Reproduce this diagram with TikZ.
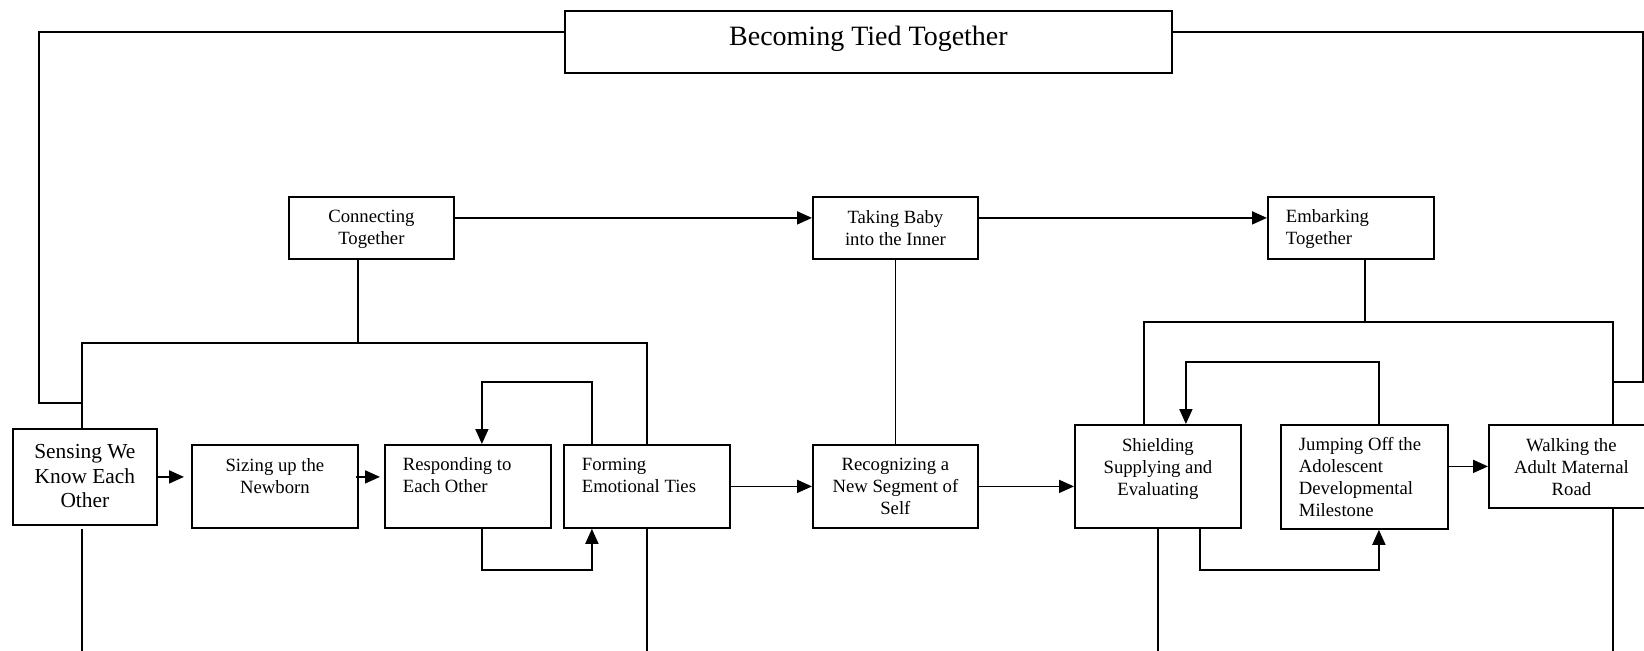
\documentclass[tikz,border=0pt]{standalone}
\usepackage{fontspec}
\setmainfont{Liberation Serif}
\usetikzlibrary{arrows.meta}

\begin{document}
\begin{tikzpicture}[x=0.5pt,y=-0.5pt,line width=0.9pt,
  >={Triangle[length=7.5pt,width=6.5pt]},
  box/.style={draw,inner sep=0pt,anchor=north west},
  sz/.style 2 args={minimum width=#1*0.5pt,minimum height=#2*0.5pt},
  ctext/.style={anchor=north,align=center,inner sep=6.7pt,font=\fontsize{9.35}{11}\selectfont},
  ltext/.style={anchor=north west,align=left,inner xsep=9pt,inner ysep=6.4pt,font=\fontsize{9.35}{11}\selectfont}]
  \useasboundingbox (0,0) rectangle (1644,650);
  \clip (0,0) rectangle (1644,650);

  \node[box,sz={607}{62},label={[ctext,inner ysep=7.8pt,font=\fontsize{14}{16}\selectfont]north:Becoming Tied Together}] (title) at (564,10) {};

  \node[box,sz={165}{62},label={[ctext]north:Connecting\\Together}] (connecting) at (288,196) {};
  \node[box,sz={165}{62},label={[ctext]north:Taking Baby\\into the Inner}] (taking) at (812,196) {};
  \node[box,sz={166}{62},label={[ltext]north west:Embarking\\Together}] (embarking) at (1267,196) {};

  \node[box,sz={144}{96},label={[ctext,inner ysep=7.8pt,font=\fontsize{10.7}{12.3}\selectfont]north:Sensing We\\Know Each\\Other}] (sensing) at (12,428) {};
  \node[box,sz={166}{83},label={[ctext]north:Sizing up the\\Newborn}] (sizing) at (191,444) {};
  \node[box,sz={166}{83},label={[ltext]north west:Responding to\\Each Other}] (responding) at (384,444) {};
  \node[box,sz={166}{83},label={[ltext]north west:Forming\\Emotional Ties}] (forming) at (563,444) {};
  \node[box,sz={165}{83},label={[ctext]north:Recognizing a\\New Segment of\\Self}] (recognizing) at (812,444) {};
  \node[box,sz={166}{103},label={[ctext]north:Shielding\\Supplying and\\Evaluating}] (shielding) at (1074,424) {};
  \node[box,sz={167}{104},label={[ltext]north west:Jumping Off the\\Adolescent\\Developmental\\Milestone}] (jumping) at (1280,424) {};
  \node[box,sz={165}{83},label={[ctext]north:Walking the\\Adult Maternal\\Road}] (walking) at (1488,424) {};

  \coordinate (ljoin) at (80.6,403);
  \coordinate (rjoin) at (1612,382);
  \coordinate (bot) at (0,652);

  \draw ([yshift=5pt]title.west) -- ++(-525,0) |- (ljoin);
  \draw ([yshift=5pt]title.east) -- ++(470,0) |- (rjoin);

  \draw[->] ([yshift=5pt]connecting.east) -- ([yshift=5pt]taking.west);
  \draw[->] ([yshift=5pt]taking.east) -- ([yshift=5pt]embarking.west);

  \draw ([xshift=-6.75pt]connecting.south) -- ++(0,83) coordinate (cbar);
  \draw ([xshift=-1.6pt]sensing.north) |- (cbar) -| (forming.north);
  \draw (taking.south) -- (recognizing.north);
  \draw ([xshift=7pt]embarking.south) -- ++(0,62) coordinate (ebar);
  \draw ([xshift=-7pt]shielding.north) |- (ebar) -| ([xshift=20.75pt]walking.north);

  \draw[->,shorten >=3.5pt] (sensing.east) -- (sensing.east -| sizing.west);
  \draw[->,shorten >=2pt] ([xshift=-1.5pt]sizing.east |- sensing.east) -- (responding.west |- sensing.east);
  \draw[->] (forming.east) -- (recognizing.west);
  \draw[->] (recognizing.east) -- (recognizing.east -| shielding.west);
  \draw[->] (jumping.east |- walking.west) -- (walking.west);

  \draw[->] ([xshift=-27.5pt]forming.north) -- ++(0,-62) -| ([xshift=7pt]responding.north);
  \draw[->] ([xshift=7pt]responding.south) -- ++(0,41) -| ([xshift=-27.5pt]forming.south);
  \draw[->] ([xshift=7.25pt]jumping.north) -- ++(0,-62) -| ([xshift=14pt]shielding.north);
  \draw[->] ([xshift=21pt]shielding.south) -- ++(0,41) -| ([xshift=7.25pt]jumping.south);

  \draw ([xshift=-1.6pt,yshift=-1.5pt]sensing.south) -- ([xshift=-1.6pt]sensing.south |- bot);
  \draw (forming.south) -- (forming.south |- bot);
  \draw (shielding.south) -- (shielding.south |- bot);
  \draw ([xshift=20.75pt]walking.south) -- ([xshift=20.75pt]walking.south |- bot);
\end{tikzpicture}
\end{document}
